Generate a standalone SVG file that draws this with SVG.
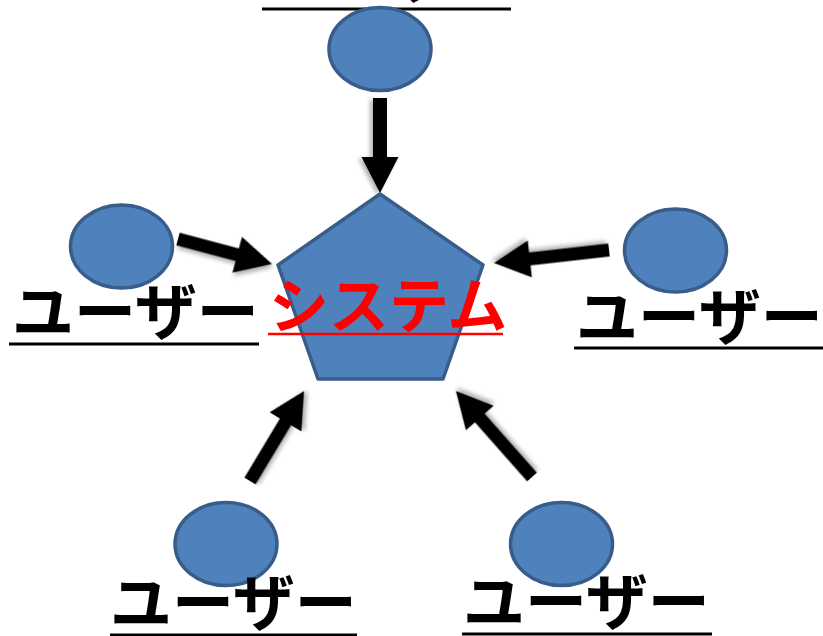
<svg xmlns="http://www.w3.org/2000/svg" width="823" height="636" viewBox="0 0 823 636">
  <style>
    .actor { fill: #4F81BD; stroke: #385D8A; stroke-width: 3.5; }
    .system-shape { fill: #4F81BD; stroke: #385D8A; stroke-width: 3.5; stroke-linejoin: round; }
    .label { font-family: "Noto Sans CJK JP", "Noto Sans", sans-serif; font-size: 62px; font-weight: 700; fill: #000; }
    .label-line { stroke: #000; stroke-width: 3; }
    .sys-label { font-family: "Noto Sans CJK JP", "Noto Sans", sans-serif; font-size: 60px; font-weight: 700; fill: #FF0000; }
    .sys-line { stroke: #FF0000; stroke-width: 2.5; }
    .arrow { fill: #000; filter: url(#shadow); }
  </style>
  <defs>
    <filter id="shadow" x="-20%" y="-20%" width="140%" height="140%">
      <feDropShadow dx="2" dy="3" stdDeviation="2" flood-color="#000" flood-opacity="0.3"/>
    </filter>
  </defs>
  <rect width="823" height="636" fill="#FFFFFF"/>

  <!-- block arrows from each user into the system -->
  <g id="connectors">
    <path class="arrow" transform="translate(380,98) rotate(90)" d="M0,-7 H59 V-18.5 L95,0 L59,18.5 V7 H0 Z"/>
    <path class="arrow" transform="translate(178,239) rotate(14.9)" d="M0,-6.5 H61.3 V-18.5 L97.3,0 L61.3,18.5 V6.5 H0 Z"/>
    <path class="arrow" transform="translate(609,250) rotate(173.55)" d="M0,-6.5 H79.7 V-18.5 L115.7,0 L79.7,18.5 V6.5 H0 Z"/>
    <path class="arrow" transform="translate(250,481) rotate(-59)" d="M0,-6.5 H69 V-18.5 L105,0 L69,18.5 V6.5 H0 Z"/>
    <path class="arrow" transform="translate(532,477) rotate(-131.5)" d="M0,-6.5 H78.8 V-18.5 L114.8,0 L78.8,18.5 V6.5 H0 Z"/>
  </g>

  <g id="system">
    <polygon class="system-shape" points="380,194 483,265 443,379 318,379 278,265"/>
    <text class="sys-label" x="269" y="328">システム</text>
    <line class="sys-line" x1="268" y1="334" x2="503" y2="334"/>
  </g>

  <g id="user-top">
    <line class="label-line" x1="262" y1="9" x2="511" y2="9"/>
    <text class="label" x="264" y="-2">ユーザー</text>
    <ellipse class="actor" cx="380" cy="49" rx="51" ry="41.5"/>
  </g>

  <g id="user-left">
    <ellipse class="actor" cx="121.5" cy="246.5" rx="51" ry="41.5"/>
    <text class="label" x="12" y="335">ユーザー</text>
    <line class="label-line" x1="9" y1="344" x2="259" y2="344"/>
  </g>

  <g id="user-right">
    <ellipse class="actor" cx="675.5" cy="250.5" rx="51" ry="41.5"/>
    <text class="label" x="576" y="340">ユーザー</text>
    <line class="label-line" x1="574" y1="348" x2="823" y2="348"/>
  </g>

  <g id="user-bottom-left">
    <ellipse class="actor" cx="226" cy="544" rx="51" ry="41.5"/>
    <text class="label" x="110" y="626">ユーザー</text>
    <line class="label-line" x1="110" y1="635" x2="357" y2="635"/>
  </g>

  <g id="user-bottom-right">
    <ellipse class="actor" cx="561.5" cy="544" rx="51" ry="41.5"/>
    <text class="label" x="463" y="625">ユーザー</text>
    <line class="label-line" x1="462" y1="634" x2="712" y2="634"/>
  </g>
</svg>
